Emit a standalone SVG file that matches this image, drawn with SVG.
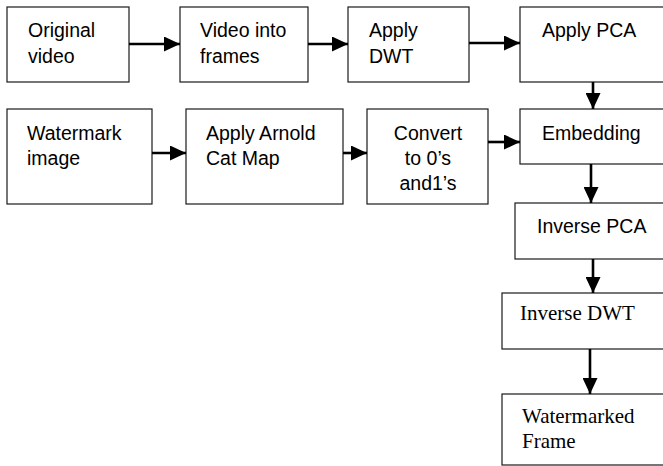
<svg xmlns="http://www.w3.org/2000/svg" width="663" height="466" viewBox="0 0 663 466">
<defs>
<style>
.box{fill:#fff;stroke:#1a1a1a;stroke-width:1.2}
.t{font-family:"Liberation Sans",Arial,sans-serif;font-size:19.5px;fill:#000}
.s{font-family:"Liberation Serif","Times New Roman",serif;font-size:21px;fill:#000}
.c{stroke:#000;stroke-width:2.6;fill:none;marker-end:url(#ah)}
</style>
<marker id="ah" markerUnits="userSpaceOnUse" markerWidth="17" markerHeight="15" refX="16" refY="7.5" orient="auto">
<path d="M0,0 L16,7.5 L0,15 Z" fill="#000"/>
</marker>
</defs>
<rect width="663" height="466" fill="#fff"/>
<g id="n1"><rect class="box" x="7" y="7" width="122" height="75"/><text class="t" x="28" y="37">Original</text><text class="t" x="28" y="63">video</text></g>
<g id="n2"><rect class="box" x="180" y="7" width="128" height="75"/><text class="t" x="200" y="37">Video into</text><text class="t" x="200" y="63">frames</text></g>
<g id="n3"><rect class="box" x="348" y="7" width="121" height="75"/><text class="t" x="369" y="37">Apply</text><text class="t" x="369" y="63">DWT</text></g>
<g id="n4"><rect class="box" x="520" y="7" width="200" height="75"/><text class="t" x="542" y="37">Apply PCA</text></g>
<g id="n5"><rect class="box" x="7" y="109" width="145" height="95"/><text class="t" x="27" y="140">Watermark</text><text class="t" x="27" y="165">image</text></g>
<g id="n6"><rect class="box" x="186" y="109" width="157" height="95"/><text class="t" x="206" y="140">Apply Arnold</text><text class="t" x="206" y="165">Cat Map</text></g>
<g id="n7"><rect class="box" x="367" y="109" width="121" height="95"/><text class="t" x="428" y="140" text-anchor="middle">Convert</text><text class="t" x="428" y="165" text-anchor="middle">to 0’s</text><text class="t" x="428" y="190" text-anchor="middle">and1’s</text></g>
<g id="n8"><rect class="box" x="520" y="109" width="200" height="55"/><text class="t" x="542" y="140">Embedding</text></g>
<g id="n9"><rect class="box" x="515" y="203" width="200" height="56"/><text class="t" x="537" y="233">Inverse PCA</text></g>
<g id="n10"><rect class="box" x="502" y="293" width="200" height="56"/><text class="s" x="520" y="320">Inverse DWT</text></g>
<g id="n11"><rect class="box" x="502" y="394" width="200" height="71"/><text class="s" x="522" y="423">Watermarked</text><text class="s" x="522" y="448">Frame</text></g>
<g id="connectors">
<line class="c" x1="129" y1="44" x2="180" y2="44"/>
<line class="c" x1="308" y1="44" x2="348" y2="44"/>
<line class="c" x1="469" y1="43" x2="520" y2="43"/>
<line class="c" x1="593" y1="82" x2="593" y2="109"/>
<line class="c" x1="152" y1="153" x2="186" y2="153"/>
<line class="c" x1="343" y1="153" x2="367" y2="153"/>
<line class="c" x1="488" y1="142" x2="520" y2="142"/>
<line class="c" x1="591" y1="164" x2="591" y2="203"/>
<line class="c" x1="593" y1="259" x2="593" y2="293"/>
<line class="c" x1="590" y1="349" x2="590" y2="394"/>
</g>
</svg>
